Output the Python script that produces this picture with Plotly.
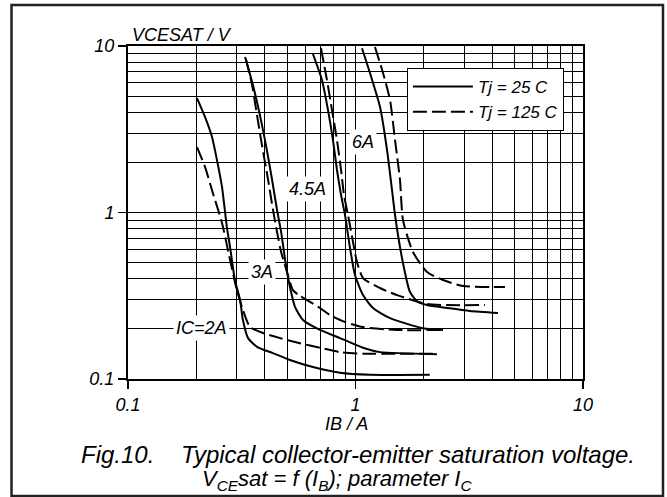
import numpy as np
import plotly.graph_objects as go

# ---- data (IB in A, VCEsat in V) ----
ib_2a_25 = [0.201, 0.218, 0.234, 0.246, 0.259, 0.272, 0.281, 0.295, 0.311, 0.320, 0.337, 0.369, 0.434, 0.515, 0.650, 0.855, 1.158, 2.12]
v_2a_25 = [4.87, 3.75, 2.84, 2.07, 1.42, 0.818, 0.62, 0.393, 0.298, 0.226, 0.176, 0.156, 0.143, 0.130, 0.118, 0.109, 0.106, 0.106]

ib_2a_125 = [0.201, 0.218, 0.236, 0.259, 0.281, 0.301, 0.320, 0.344, 0.392, 0.466, 0.570, 0.698, 0.855, 1.079, 1.52, 2.28]
v_2a_125 = [2.47, 1.88, 1.31, 0.865, 0.518, 0.342, 0.26, 0.205, 0.189, 0.176, 0.164, 0.154, 0.145, 0.142, 0.142, 0.142]

ib_3a_25 = [0.327, 0.354, 0.380, 0.404, 0.430, 0.452, 0.471, 0.485, 0.500, 0.515, 0.542, 0.588, 0.698, 0.855, 1.079, 1.282, 2.28]
v_3a_25 = [8.59, 5.83, 3.85, 2.54, 1.567, 1.035, 0.764, 0.579, 0.439, 0.357, 0.271, 0.226, 0.197, 0.176, 0.154, 0.145, 0.141]

ib_3a_125 = [0.330, 0.351, 0.369, 0.388, 0.413, 0.434, 0.452, 0.471, 0.500, 0.531, 0.570, 0.612, 0.698, 0.773, 0.899, 1.079, 1.522, 2.42]
v_3a_125 = [8.36, 5.83, 3.85, 2.54, 1.567, 1.035, 0.764, 0.579, 0.439, 0.342, 0.315, 0.298, 0.267, 0.242, 0.220, 0.205, 0.197, 0.197]

ib_45a_25 = [0.650, 0.712, 0.757, 0.796, 0.829, 0.864, 0.899, 0.946, 0.995, 1.079, 1.194, 1.418, 1.981, 2.424]
v_45a_25 = [8.95, 6.25, 4.13, 2.72, 1.80, 1.274, 0.966, 0.612, 0.421, 0.319, 0.267, 0.232, 0.202, 0.197]

ib_45a_125 = [0.705, 0.749, 0.788, 0.829, 0.864, 0.890, 0.927, 0.975, 1.015, 1.079, 1.282, 1.522, 2.063, 3.709]
v_45a_125 = [9.73, 6.25, 4.13, 2.72, 1.80, 1.274, 0.966, 0.665, 0.504, 0.404, 0.352, 0.319, 0.282, 0.278]

ib_6a_25 = [1.068, 1.158, 1.282, 1.376, 1.447, 1.492, 1.601, 1.736, 1.882, 2.063, 2.525, 3.187, 4.23]
v_6a_25 = [9.7, 6.88, 4.30, 2.37, 1.365, 0.966, 0.533, 0.333, 0.290, 0.278, 0.267, 0.256, 0.249]

ib_6a_125 = [1.218, 1.321, 1.418, 1.492, 1.569, 1.617, 1.789, 2.063, 2.424, 2.97, 4.54]
v_6a_125 = [9.86, 6.88, 4.74, 2.72, 1.567, 0.901, 0.579, 0.439, 0.393, 0.362, 0.357]

# curve labels
label_text = ["IC=2A", "3A", "4.5A", "6A"]
label_ib = [0.211, 0.388, 0.618, 1.079]
label_v = [0.202, 0.439, 1.384, 2.65]

# axis ticks
major_ticks = [0.1, 1, 10]
major_text = ["0.1", "1", "10"]
minor_ticks = [0.2, 0.3, 0.4, 0.5, 0.6, 0.7, 0.8, 0.9, 2, 3, 4, 5, 6, 7, 8, 9]

FONT = "Liberation Sans, Arial, Helvetica, sans-serif"

fig = go.Figure()

curves = [
    (ib_2a_25, v_2a_25, "solid"), (ib_2a_125, v_2a_125, "dash"),
    (ib_3a_25, v_3a_25, "solid"), (ib_3a_125, v_3a_125, "dash"),
    (ib_45a_25, v_45a_25, "solid"), (ib_45a_125, v_45a_125, "dash"),
    (ib_6a_25, v_6a_25, "solid"), (ib_6a_125, v_6a_125, "dash"),
]
shown = set()
for xs, ys, kind in curves:
    name = "Tj = 25 C" if kind == "solid" else "Tj = 125 C"
    fig.add_trace(go.Scatter(
        x=xs, y=ys, mode="lines", name=name, legendgroup=name,
        showlegend=name not in shown,
        line=dict(color="black", width=2,
                  dash="solid" if kind == "solid" else "14px,5px",
                  shape="spline", smoothing=0.6),
    ))
    shown.add(name)

for t, xv, yv in zip(label_text, label_ib, label_v):
    fig.add_annotation(x=np.log10(xv), y=np.log10(yv), xref="x", yref="y",
                       text=t, showarrow=False, bgcolor="white",
                       font=dict(family=FONT, size=18, color="black", style="italic"),
                       borderpad=2)

axis_common = dict(
    type="log", range=[-1, 1],
    tickmode="array", tickvals=major_ticks, ticktext=major_text,
    ticks="outside", ticklen=8, tickwidth=1.2, tickcolor="black",
    showgrid=True, gridcolor="black", gridwidth=1,
    showline=True, linecolor="black", linewidth=2, mirror=True,
    zeroline=False,
    tickfont=dict(family=FONT, size=18, color="black", style="italic"),
    minor=dict(tickmode="array", tickvals=minor_ticks, showgrid=True,
               gridcolor="black", gridwidth=1, ticks=""),
)
fig.update_xaxes(**axis_common, ticklabelstandoff=0)
fig.update_yaxes(**axis_common)

fig.add_annotation(xref="paper", yref="paper", x=0.004, y=1.033, xanchor="left", yanchor="middle",
                   text="VCESAT / V", showarrow=False,
                   font=dict(family=FONT, size=18, color="black", style="italic"))
fig.add_annotation(xref="paper", yref="paper", x=0.481, y=-0.134, xanchor="center", yanchor="middle",
                   text="IB / A", showarrow=False,
                   font=dict(family=FONT, size=18, color="black", style="italic"))
fig.add_annotation(xref="paper", yref="paper", x=0.5055, y=-0.226, xanchor="center", yanchor="middle",
                   text="Fig.10.\u00a0\u00a0\u00a0\u00a0Typical collector-emitter saturation voltage.",
                   showarrow=False,
                   font=dict(family=FONT, size=24, color="black", style="italic"))
fig.add_annotation(xref="paper", yref="paper", x=0.459, y=-0.302, xanchor="center", yanchor="middle",
                   text="V<sub>CE</sub>sat = f (I<sub>B</sub>); parameter I<sub>C</sub>",
                   showarrow=False,
                   font=dict(family=FONT, size=22, color="black", style="italic"))

# outer frame
fig.add_shape(type="rect", xref="paper", yref="paper",
              x0=-0.256, x1=1.1758, y0=-0.3514, y1=1.1231,
              line=dict(color="#222222", width=2.5), fillcolor="rgba(0,0,0,0)", layer="above")

fig.update_layout(
    width=667, height=497,
    margin=dict(l=128, r=84, t=46, b=118),
    plot_bgcolor="white", paper_bgcolor="white",
    showlegend=True,
    legend=dict(x=0.613, y=0.934, xanchor="left", yanchor="top",
                bgcolor="white", bordercolor="black", borderwidth=1,
                font=dict(family=FONT, size=17, color="black", style="italic"),
                itemwidth=60, tracegroupgap=0),
)

fig.write_html("out.html", config={"displayModeBar": False, "staticPlot": True},
               post_script="document.body.style.margin='0';document.body.style.overflow='hidden';")
